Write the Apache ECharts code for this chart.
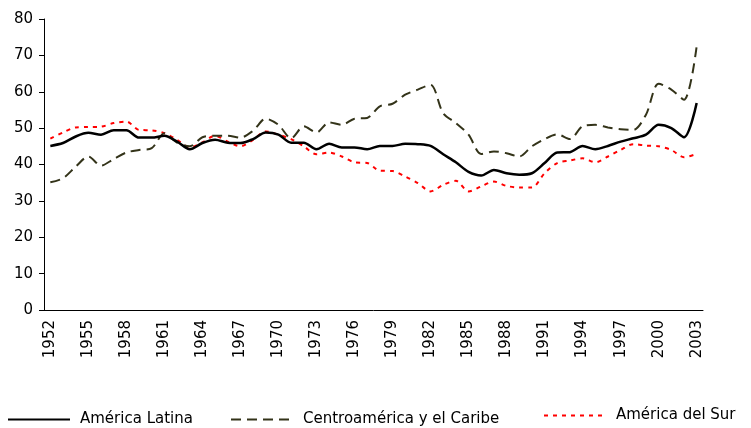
<!DOCTYPE html>
<html>
<head>
<meta charset="utf-8">
<script src="https://cdn.jsdelivr.net/npm/echarts@6/dist/echarts.min.js"></script>
<style>
  html, body { margin: 0; padding: 0; background: #fff; }
  #main { width: 751px; height: 428px; }
</style>
</head>
<body>
<div id="main"></div>
<script>
// años 1952 - 2003
const years = []
for (let y = 1952; y <= 2003; y++) years.push(String(y))

const americaLatina = [
  45.1, 45.9, 47.7, 48.7, 48.2, 49.4, 49.4, 47.4, 47.4, 47.9,
  46.3, 44.2, 45.9, 46.8, 46.0, 45.9, 47.0, 48.8, 48.2, 46.0,
  46.0, 44.2, 45.7, 44.7, 44.7, 44.2, 45.1, 45.1, 45.7, 45.6,
  45.1, 42.8, 40.6, 38.0, 37.0, 38.5, 37.6, 37.2, 37.6, 40.4,
  43.3, 43.4, 45.1, 44.2, 45.1, 46.3, 47.2, 48.2, 50.9, 50.0,
  47.5, 56.9
]

const centroamerica = [
  35.1, 36.2, 39.4, 42.2, 39.7, 41.5, 43.3, 44.0, 44.5, 48.6,
  46.0, 45.0, 47.5, 47.9, 47.9, 47.4, 49.3, 52.6, 50.9, 47.2,
  50.5, 48.8, 51.6, 50.9, 52.6, 52.8, 56.0, 56.7, 59.2, 60.6,
  61.9, 54.1, 51.4, 48.2, 42.9, 43.6, 43.1, 42.2, 45.0, 47.0,
  48.3, 47.0, 50.5, 50.9, 50.2, 49.7, 49.5, 53.7, 62.2, 60.6,
  57.8, 72.5
]

const americaSur = [
  47.1, 48.8, 50.2, 50.3, 50.4, 51.4, 51.8, 49.5, 49.4, 48.6,
  46.8, 44.7, 46.1, 47.9, 46.3, 45.0, 46.8, 49.1, 48.2, 47.0,
  45.0, 42.8, 43.3, 42.2, 40.6, 40.4, 38.3, 38.2, 36.7, 34.9,
  32.6, 34.4, 35.5, 32.6, 34.0, 35.3, 34.1, 33.7, 33.7, 37.6,
  40.4, 41.1, 41.7, 40.6, 42.2, 44.0, 45.6, 45.2, 45.0, 44.0,
  42.0, 42.9
]

const font = 'DejaVu Sans'

const chartDom = document.getElementById('main')
const myChart = echarts.init(chartDom)

const legendBase = {
  orient: 'horizontal',
  padding: 0,
  itemWidth: 62,
  itemHeight: 14,
  itemStyle: { opacity: 0 }, // solo la línea, sin círculo
  textStyle: { fontFamily: font, fontSize: 15, color: '#000', padding: [0, 0, 0, 5] },
}

const option = {
  animation: false,
  backgroundColor: '#fff',
  grid: { left: 44, right: 48, top: 19, bottom: 118 },
  legend: [
    { ...legendBase, data: ['América Latina'], left: 7, top: 412 },
    { ...legendBase, data: ['Centroamérica y el Caribe'], left: 230, top: 412 },
    { ...legendBase, data: ['América del Sur'], left: 543, top: 408 },
  ],
  xAxis: {
    type: 'category',
    data: years,
    boundaryGap: true,
    axisLine: { lineStyle: { color: '#000', width: 1 } },
    axisTick: { interval: 0, length: 5, lineStyle: { color: '#000' } },
    axisLabel: {
      interval: 2,
      rotate: 90,
      margin: 10,
      color: '#000',
      fontFamily: font,
      fontSize: 15,
    },
    splitLine: { show: false },
  },
  yAxis: {
    type: 'value',
    min: 0,
    max: 80,
    interval: 10,
    axisLine: { show: true, lineStyle: { color: '#000', width: 1 } },
    axisTick: { show: true, length: 5, lineStyle: { color: '#000' } },
    axisLabel: { margin: 11, color: '#000', fontFamily: font, fontSize: 15 },
    splitLine: { show: false },
  },
  series: [
    {
      name: 'América Latina',
      type: 'line',
      data: americaLatina,
      smooth: 0.3,
      symbol: 'none',
      z: 3,
      itemStyle: { color: '#000' },
      lineStyle: { color: '#000', width: 2.5 },
    },
    {
      name: 'Centroamérica y el Caribe',
      type: 'line',
      data: centroamerica,
      smooth: 0.3,
      symbol: 'none',
      z: 2,
      itemStyle: { color: '#333319' },
      lineStyle: { color: '#333319', width: 2, type: [10, 6] },
    },
    {
      name: 'América del Sur',
      type: 'line',
      data: americaSur,
      smooth: 0.3,
      symbol: 'none',
      z: 1,
      itemStyle: { color: '#ff0000' },
      lineStyle: { color: '#ff0000', width: 2, type: [4, 5] },
    },
  ],
}

option && myChart.setOption(option)
</script>
</body>
</html>
